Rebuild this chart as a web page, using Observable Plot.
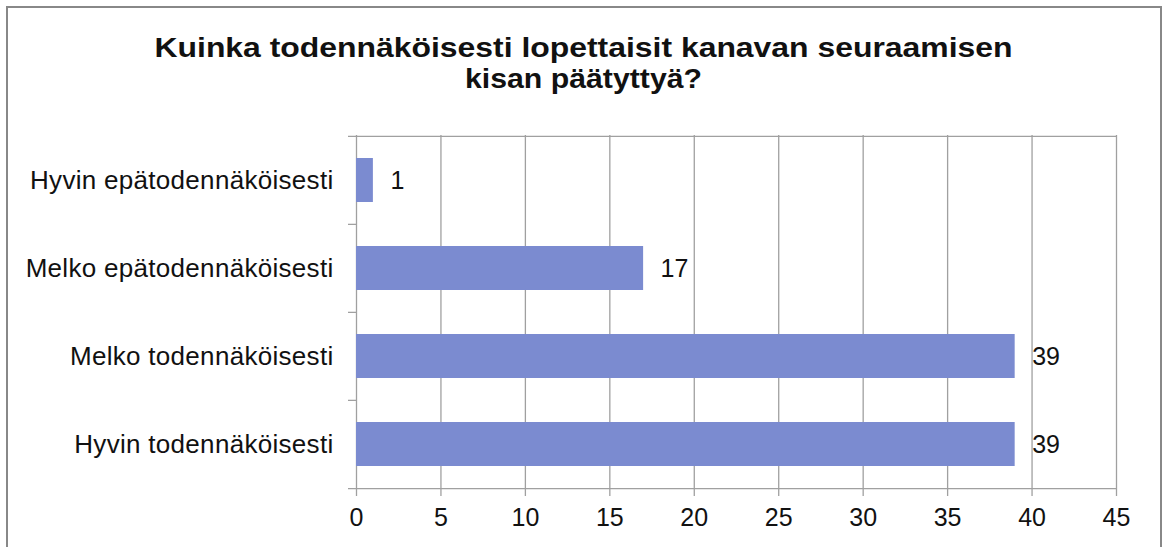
<!DOCTYPE html>
<html>
<head>
<meta charset="utf-8">
<script src="https://cdn.jsdelivr.net/npm/d3@7"></script>
<script src="https://cdn.jsdelivr.net/npm/@observablehq/plot@0.6"></script>
<style>
  html, body { margin: 0; padding: 0; background: #fff; }
  #wrap { position: relative; width: 1163px; height: 547px; overflow: hidden; background: #fff; font-family: "Liberation Sans", Arial, sans-serif; }
  #border { position: absolute; left: 6px; top: 6px; width: 1156px; height: 600px; border: 2px solid #888; box-sizing: border-box; }
  #title { position: absolute; left: 0; top: 0; }
  #chart { position: absolute; left: 0; top: 0; }
  #chart g[aria-label="y-axis tick label"] text { letter-spacing: 0.3px; }
</style>
</head>
<body>
<div id="wrap">
  <div id="border"></div>
  <div id="chart"></div>
  <svg id="title" width="1163" height="110"></svg>
</div>
<script>
const titleLines = ["Kuinka todennäköisesti lopettaisit kanavan seuraamisen", "kisan päätyttyä?"];
const categories = ["Hyvin epätodennäköisesti", "Melko epätodennäköisesti", "Melko todennäköisesti", "Hyvin todennäköisesti"];
const values = [1, 17, 39, 39];
const xTicks = [0, 5, 10, 15, 20, 25, 30, 35, 40, 45];

const data = categories.map((c, i) => ({category: c, value: values[i]}));

// Title
const tsvg = d3.select("#title");
const titleLayout = [
  {y: 57, len: 858},
  {y: 88, len: 237}
];
titleLines.forEach((t, i) => {
  tsvg.append("text")
    .attr("x", 583.5)
    .attr("y", titleLayout[i].y)
    .attr("text-anchor", "middle")
    .attr("font-family", "'Liberation Sans', Arial, sans-serif")
    .attr("font-weight", "bold")
    .attr("font-size", 28)
    .attr("fill", "#111")
    .attr("textLength", titleLayout[i].len)
    .attr("lengthAdjust", "spacingAndGlyphs")
    .text(t);
});

const W = 1163, H = 547, mT = 135, mB = 59, mL = 356, mR = 47;
const pIn = 0.5, pOut = 0.25;
const step = (H - mT - mB) / (categories.length - pIn + 2 * pOut);
const gridColor = "#a0a0a0";

const plot = Plot.plot({
  width: W,
  height: H,
  marginTop: mT,
  marginBottom: mB,
  marginLeft: mL,
  marginRight: mR,
  style: {fontFamily: "'Liberation Sans', Arial, sans-serif", fontSize: "25px", color: "#111", background: "transparent", overflow: "visible"},
  x: {domain: [xTicks[0], xTicks[xTicks.length - 1]]},
  y: {domain: categories, paddingInner: pIn, paddingOuter: pOut},
  marks: [
    Plot.gridX(xTicks, {stroke: gridColor, strokeOpacity: 1, strokeWidth: 1.3}),
    Plot.ruleY([categories[0]], {y: d => d, dy: -step / 2, x1: xTicks[0], x2: xTicks[xTicks.length - 1], insetLeft: -8, stroke: gridColor, strokeWidth: 1.3}),
    Plot.ruleY([categories[categories.length - 1]], {y: d => d, dy: step / 2, x1: xTicks[0], x2: xTicks[xTicks.length - 1], insetLeft: -8, stroke: gridColor, strokeWidth: 1.3}),
    Plot.ruleY(categories.slice(1), {y: d => d, dy: -step / 2, x1: xTicks[0], x2: xTicks[0], insetLeft: -8, stroke: gridColor, strokeWidth: 1.3}),
    Plot.barX(data, {x: "value", y: "category", fill: "#7b8bd0"}),
    Plot.text(data, {x: "value", y: "category", text: d => String(d.value), textAnchor: "start", dx: 17, fontSize: 25, fill: "#111"}),
    Plot.axisX(xTicks, {tickSize: 8, tickPadding: 12, stroke: gridColor, strokeWidth: 1.3, fill: "#111", fontSize: 25, label: null}),
    Plot.axisY({tickSize: 0, tickPadding: 23, fill: "#111", fontSize: 26, label: null})
  ]
});
document.getElementById("chart").appendChild(plot);
</script>
</body>
</html>
